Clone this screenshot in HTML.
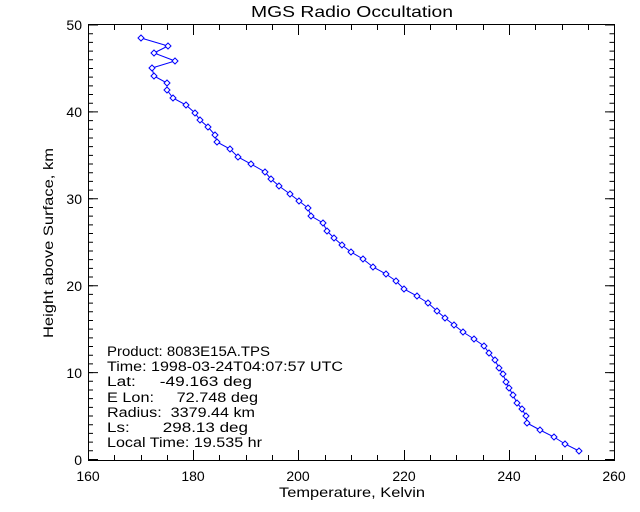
<!DOCTYPE html>
<html><head><style>body{margin:0;background:#fff}svg{display:block}text{font-family:"Liberation Sans",sans-serif;fill:#000}.pre{white-space:pre}</style></head>
<body>
<svg width="640" height="512" viewBox="0 0 640 512" xmlns="http://www.w3.org/2000/svg">
<defs>
<marker id="dm" markerUnits="userSpaceOnUse" markerWidth="8" markerHeight="8" refX="4" refY="4" viewBox="0 0 8 8" overflow="visible">
<path d="M1 4L4 1L7 4L4 7Z" fill="#fff" stroke="#0000ff" stroke-width="1"/>
</marker>
</defs>
<rect width="640" height="512" fill="#fff"/>
<text x="251" y="17" font-size="16" textLength="202" lengthAdjust="spacingAndGlyphs">MGS Radio Occultation</text>
<rect x="88.5" y="24.5" width="526" height="436" fill="none" stroke="#000" stroke-width="1"/>
<g stroke="#000" stroke-width="1">
<path d="M88.5 460v-10M193.5 460v-10M298.5 460v-10M404.5 460v-10M509.5 460v-10M614.5 460v-10M88.5 25v10M193.5 25v10M298.5 25v10M404.5 25v10M509.5 25v10M614.5 25v10"/>
<path d="M114.5 460v-5M141.5 460v-5M167.5 460v-5M219.5 460v-5M246.5 460v-5M272.5 460v-5M325.5 460v-5M351.5 460v-5M377.5 460v-5M430.5 460v-5M456.5 460v-5M483.5 460v-5M535.5 460v-5M562.5 460v-5M588.5 460v-5M114.5 25v5M141.5 25v5M167.5 25v5M219.5 25v5M246.5 25v5M272.5 25v5M325.5 25v5M351.5 25v5M377.5 25v5M430.5 25v5M456.5 25v5M483.5 25v5M535.5 25v5M562.5 25v5M588.5 25v5"/>
<path d="M88 459.5h10M88 372.6h10M88 285.7h10M88 198.8h10M88 111.9h10M88 25h10M615 459.5h-10M615 372.6h-10M615 285.7h-10M615 198.8h-10M615 111.9h-10M615 25h-10"/>
</g>
<line x1="90.5" y1="460" x2="90.5" y2="24" stroke="#000" stroke-width="5" stroke-dasharray="1 7.69"/>
<line x1="612" y1="460" x2="612" y2="24" stroke="#000" stroke-width="5" stroke-dasharray="1 7.69"/>
<g font-size="14" text-anchor="middle">
<text x="88" y="481">160</text><text x="193" y="481">180</text><text x="298" y="481">200</text><text x="404" y="481">220</text><text x="509" y="481">240</text><text x="614" y="481">260</text>
</g>
<g font-size="14" text-anchor="end">
<text x="82" y="465">0</text><text x="82" y="378">10</text><text x="82" y="291">20</text><text x="82" y="204">30</text><text x="82" y="117">40</text><text x="82" y="30">50</text>
</g>
<text x="279" y="497" font-size="14" textLength="146" lengthAdjust="spacingAndGlyphs">Temperature, Kelvin</text>
<text transform="translate(53,338) rotate(-90)" font-size="14" textLength="190" lengthAdjust="spacingAndGlyphs">Height above Surface, km</text>
<g font-size="13.5">
<text class="pre" x="107" y="356" textLength="163" lengthAdjust="spacingAndGlyphs">Product: 8083E15A.TPS</text>
<text class="pre" x="107" y="371" textLength="236" lengthAdjust="spacingAndGlyphs">Time: 1998-03-24T04:07:57 UTC</text>
<text class="pre" x="107" y="386" textLength="145" lengthAdjust="spacingAndGlyphs">Lat:     -49.163 deg</text>
<text class="pre" x="107" y="402" textLength="151" lengthAdjust="spacingAndGlyphs">E Lon:     72.748 deg</text>
<text class="pre" x="107" y="417" textLength="148" lengthAdjust="spacingAndGlyphs">Radius:  3379.44 km</text>
<text class="pre" x="107" y="432" textLength="141" lengthAdjust="spacingAndGlyphs">Ls:       298.13 deg</text>
<text class="pre" x="107" y="447" textLength="155" lengthAdjust="spacingAndGlyphs">Local Time: 19.535 hr</text>
</g>
<polyline fill="none" stroke="#0000ff" stroke-width="1" marker-start="url(#dm)" marker-mid="url(#dm)" marker-end="url(#dm)" points="141,38 168,46 154,53 175,61 152,68 154,76 167,83 167,90 173,98 186,105 195,113 200,120 208,127 215,135 217,142 230,149 238,157 251,164 265,172 271,179 279,186 290,194 299,201 308,208 311,216 323,223 327,231 334,238 342,245 351,252 363,259 373,267 386,274 396,281 404,289 417,296 428,303 437,311 445,318 454,325 463,332 474,339 484,346 489,353 495,360 499,368 503,374 506,382 509,388 513,395 517,403 522,409 526,416 527,423 540,430 554,437 565,444 579,451"/>
</svg>
</body></html>
